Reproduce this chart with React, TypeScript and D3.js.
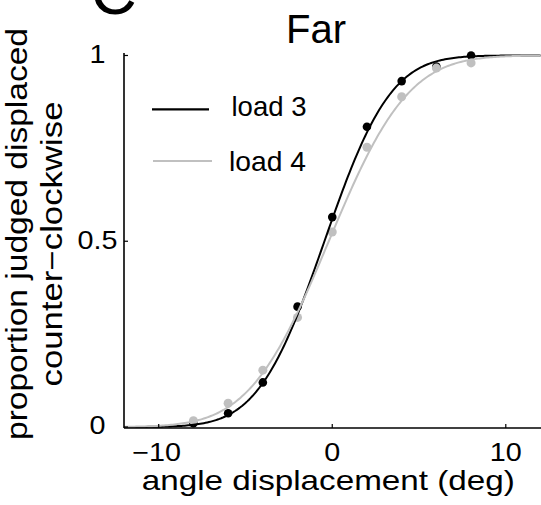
import React from "react";
import * as d3 from "d3";

// ---- data ----
const angles = [-8, -6, -4, -2, 0, 2, 4, 6, 8];
const load3 = [0.01, 0.037, 0.12, 0.324, 0.565, 0.808, 0.931, 0.97, 1.0];
const load4 = [0.017, 0.064, 0.153, 0.295, 0.525, 0.753, 0.889, 0.966, 0.98];
// fitted cumulative-Gaussian parameters (mean, sd)
const fit3 = { mu: -0.45, sigma: 3.0 };
const fit4 = { mu: -0.2, sigma: 3.6 };
const xTicks = [-10, 0, 10];
const yTicks = [0, 0.5, 1];
const xTickLabels = ["\u221210", "0", "10"];
const yTickLabels = ["0", "0.5", "1"];
const seriesNames = ["load 3", "load 4"];

const W = 541;
const H = 505;
const FONT = "'Liberation Sans', Arial, Helvetica, sans-serif";
const BLACK = "#000000";
const GRAY = "#c0c0c0";

function erf(x: number) {
  const s = Math.sign(x);
  const a = Math.abs(x);
  const t = 1 / (1 + 0.3275911 * a);
  const y =
    1 -
    ((((1.061405429 * t - 1.453152027) * t + 1.421413741) * t - 0.284496736) * t +
      0.254829592) *
      t *
      Math.exp(-a * a);
  return s * y;
}
const normCdf = (x: number, mu: number, sigma: number) =>
  0.5 * (1 + erf((x - mu) / (sigma * Math.SQRT2)));

export default function App() {
  const x = d3.scaleLinear().domain([-12, 12]).range([124, 540.5]);
  const y = d3.scaleLinear().domain([-0.0027, 1.0067]).range([428, 53]);

  const xs = d3.range(-12, 12.0001, 0.1);
  const line = d3
    .line<number[]>()
    .x((d) => x(d[0]))
    .y((d) => y(d[1]));
  const path3 = line(xs.map((v) => [v, normCdf(v, fit3.mu, fit3.sigma)]));
  const path4 = line(xs.map((v) => [v, normCdf(v, fit4.mu, fit4.sigma)]));

  const sx = 1.15;

  return (
    <svg
      width={W}
      height={H}
      viewBox={`0 0 ${W} ${H}`}
      style={{ position: "absolute", left: 0, top: 0, background: "#fff" }}
      fontFamily={FONT}
    >
      <defs>
        <clipPath id="plot">
          <rect x={124} y={40} width={W - 124} height={390} />
        </clipPath>
      </defs>
      <rect width={W} height={H} fill="#fff" />

      {/* panel letter and title */}
      <text x={113.5} y={14} fontSize={64} textAnchor="middle" fill="#000">
        C
      </text>
      <text x={316} y={42.5} fontSize={40} textAnchor="middle" fill="#000">
        Far
      </text>

      {/* data points */}
      <g clipPath="url(#plot)">
        {angles.map((a, i) => (
          <circle key={"b" + i} cx={x(a)} cy={y(load3[i])} r={4.3} fill={BLACK} />
        ))}
        {angles.map((a, i) => (
          <circle key={"g" + i} cx={x(a)} cy={y(load4[i])} r={4.5} fill={GRAY} />
        ))}
        <path d={path3 || ""} fill="none" stroke={BLACK} strokeWidth={2} />
        <path d={path4 || ""} fill="none" stroke={GRAY} strokeWidth={2} />
      </g>

      {/* axes */}
      <line x1={124} x2={124} y1={53} y2={428} stroke="#000" strokeWidth={1.6} />
      <line x1={124} x2={541} y1={428} y2={428} stroke="#000" strokeWidth={1.6} />
      {yTicks.map((t, i) => (
        <g key={"yt" + i}>
          <line x1={124} x2={128} y1={y(t)} y2={y(t)} stroke="#000" strokeWidth={1.2} />
          <text
            transform={`translate(97.5,${y(t) + 7.5}) scale(${sx},1)`}
            fontSize={25}
            textAnchor="middle"
            fill="#000"
          >
            {yTickLabels[i]}
          </text>
        </g>
      ))}
      {xTicks.map((t, i) => (
        <g key={"xt" + i}>
          <line x1={x(t)} x2={x(t)} y1={428} y2={424} stroke="#000" strokeWidth={1.2} />
          <text
            transform={`translate(${x(t) - (t < 0 ? 2 : 0)},461) scale(${sx},1)`}
            fontSize={25}
            textAnchor="middle"
            fill="#000"
          >
            {xTickLabels[i]}
          </text>
        </g>
      ))}

      {/* axis labels */}
      <text
        x={328.3}
        y={490}
        fontSize={28}
        textAnchor="middle"
        textLength={373}
        lengthAdjust="spacingAndGlyphs"
        fill="#000"
      >
        angle displacement (deg)
      </text>
      <text
        transform="translate(26.5,234) rotate(-90)"
        fontSize={29}
        textAnchor="middle"
        textLength={412}
        lengthAdjust="spacingAndGlyphs"
        fill="#000"
      >
        proportion judged displaced
      </text>
      <text
        transform="translate(62,244) rotate(-90)"
        fontSize={29}
        textAnchor="middle"
        textLength={285}
        lengthAdjust="spacingAndGlyphs"
        fill="#000"
      >
        counter{"\u2212"}clockwise
      </text>

      {/* legend */}
      <line x1={152} x2={209} y1={109.3} y2={109.3} stroke={BLACK} strokeWidth={2.2} />
      <text x={231.5} y={115.7} fontSize={28} textLength={75} lengthAdjust="spacingAndGlyphs" fill="#000">
        {seriesNames[0]}
      </text>
      <line x1={153} x2={212} y1={161} y2={161} stroke={GRAY} strokeWidth={2.2} />
      <text x={229} y={170.7} fontSize={28} textLength={77} lengthAdjust="spacingAndGlyphs" fill="#000">
        {seriesNames[1]}
      </text>
    </svg>
  );
}
